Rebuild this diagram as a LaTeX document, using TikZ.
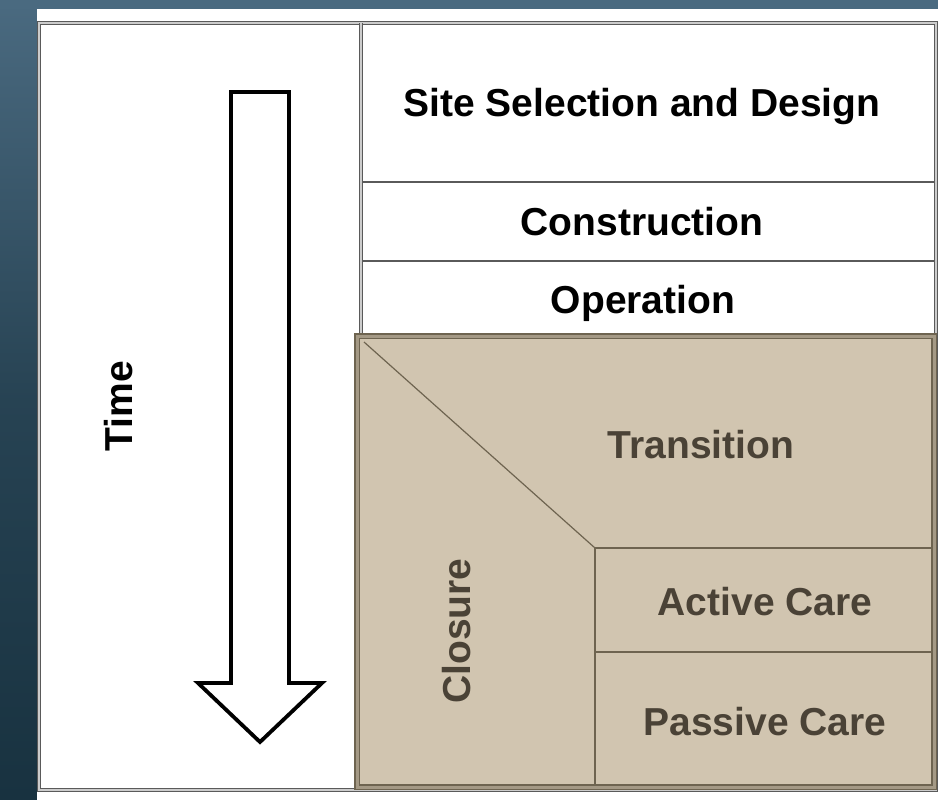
\documentclass[tikz,border=0pt]{standalone}
\usepackage{fontspec}
\setmainfont{Liberation Sans}
\usetikzlibrary{positioning}
\definecolor{slidebg}{RGB}{24,50,64}
\definecolor{slidetop}{RGB}{74,106,128}
\definecolor{gridgray}{RGB}{90,90,90}
\definecolor{closuretan}{RGB}{209,197,176}
\definecolor{closureline}{RGB}{110,100,80}
\definecolor{closuretext}{RGB}{74,66,54}

\begin{document}
\begin{tikzpicture}[x=1pt,y=-1pt,
    phase/.style={font=\fontsize{39}{46}\selectfont\bfseries, text=black, inner sep=0pt, anchor=base},
    carephase/.style={phase, text=closuretext},
    frame/.style={draw=gridgray, line width=1pt, double=gray!40, double distance=2.5pt},
    rowline/.style={draw=gridgray, line width=1.6pt}]
    % Background
    \shade[top color=slidetop, bottom color=slidebg, middle color=slidebg!70!slidetop] (0,0) rectangle (938,800);
    \fill[slidetop] (0,0) rectangle (938,9);
    \fill[white] (37,9) rectangle (938,800);
    \useasboundingbox (0,0) rectangle (938,800);

    % Table frame
    \draw[frame] (39,23) rectangle (936,790);
    \draw[frame] (361,23) -- (361,333);
    \draw[rowline] (363,182) -- (935,182);
    \draw[rowline] (363,261) -- (935,261);

    % Closure block
    \fill[closuretan] (357,336) rectangle (934,787);
    \draw[draw=closureline, line width=1.2pt, double=closureline!45!closuretan, double distance=3pt]
        (357,336) rectangle (934,787);
    \draw[closureline, line width=1.2pt] (364,342) -- (595,548);
    \draw[closureline, line width=1.2pt] (595,548) -- (931,548);
    \draw[closureline, line width=1.2pt] (595,548) -- (595,785);
    \draw[closureline, line width=1.2pt] (595,652) -- (931,652);

    % Time arrow
    \draw[black, line width=3.8pt, line join=miter]
        (231,92) -- (289,92) -- (289,683) -- (322,683) -- (260,742)
        -- (198,683) -- (231,683) -- cycle;
    \node[phase, rotate=90] (time) at (132,406) {Time};

    % Phases
    \node[phase] (site) at (642,117) {Site Selection and Design};
    \node[phase] (construction) at (642,235) {Construction};
    \node[phase] (operation) at (643,313) {Operation};
    \node[carephase] (transition) at (701,458) {Transition};
    \node[carephase] (active) at (765,615) {Active Care};
    \node[carephase] (passive) at (765,735) {Passive Care};
    \node[carephase, rotate=90] (closure) at (470,631) {Closure};
\end{tikzpicture}
\end{document}
